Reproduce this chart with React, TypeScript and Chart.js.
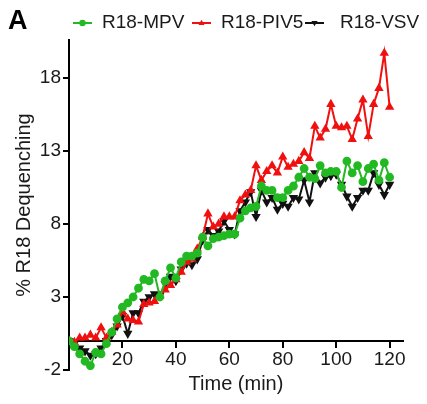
import React, { useEffect, useRef } from "react";
import { Chart, registerables } from "chart.js";

Chart.register(...registerables);

const times = [
  0, 2, 4, 6, 8, 10, 12, 14, 16, 18, 20, 22, 24, 26, 28, 30, 32, 34, 36, 38, 40,
  42, 44, 46, 48, 50, 52, 54, 56, 58, 60, 62, 64, 66, 68, 70, 72, 74, 76, 78, 80,
  82, 84, 86, 88, 90, 92, 94, 96, 98, 100, 102, 104, 106, 108, 110, 112, 114, 116, 118, 120,
];

const mpv = [
  0, -0.4, -0.9, -1.4, -1.7, -0.8, -0.9, -0.2, 0.6, 1.5, 2.3, 2.6, 3.0, 3.6, 4.2, 4.1, 4.6, 3.0, 4.1, 5.0, 4.3,
  5.4, 5.8, 5.8, 6.0, 7.1, 6.5, 7.0, 7.1, 7.2, 7.3, 7.3, 8.4, 8.9, 9.1, 9.2, 10.6, 10.3, 10.3, 9.8, 9.8,
  10.3, 10.6, 11.2, 11.8, 11.2, 11.1, 12.0, 11.5, 11.6, 11.6, 10.5, 12.3, 11.5, 12.0, 10.9, 11.8, 12.1, 11.0, 12.2, 11.2,
];

const piv5 = [
  0, -0.1, 0.2, 0.2, 0.4, 0.2, 0.9, 0.2, 0.6, 1.1, 2.0, 1.5, 1.4, 1.3, 2.5, 2.6, 2.7, 3.1, 3.5, 3.8, 4.2,
  4.7, 5.4, 5.6, 6.3, 7.1, 8.7, 7.8, 8.0, 8.5, 8.5, 8.5, 9.6, 10.0, 10.3, 12.0, 11.0, 11.6, 12.0, 11.5, 12.6,
  11.9, 12.1, 12.3, 12.9, 12.5, 14.7, 13.9, 14.5, 16.2, 14.7, 14.6, 14.7, 13.8, 15.2, 16.5, 14.0, 16.2, 17.3, 19.7, 16.0,
];

const vsv = [
  0, -0.2, -0.5, -0.7, -1.0, -0.9, -0.5, 0.0, 0.4, 1.0, 1.7, 0.5, 1.9, 1.9, 2.7, 3.0, 3.2, 3.1, 3.9, 4.4, 4.1,
  4.9, 5.3, 5.2, 5.6, 6.9, 7.6, 7.2, 7.5, 8.2, 7.6, 7.3, 8.9, 9.5, 10.2, 8.5, 10.3, 9.5, 9.8, 9.0, 9.4,
  9.2, 9.8, 9.7, 11.0, 9.5, 11.5, 10.8, 11.2, 11.3, 11.4, 10.7, 9.9, 9.2, 9.8, 10.3, 10.3, 11.5, 10.7, 10.0, 10.7,
];

const seriesLabels = ["R18-MPV", "R18-PIV5", "R18-VSV"];
const yTickValues = [-2, 3, 8, 13, 18];
const xTickValues = [20, 40, 60, 80, 100, 120];
const panelLetter = "A";
const yTitle = "% R18 Dequenching";
const xTitle = "Time (min)";

const FONT = "'Liberation Sans', Arial, Helvetica, sans-serif";
const GREEN = "#22b922";
const RED = "#f01010";
const BLACK = "#111111";

function drawMarker(ctx: CanvasRenderingContext2D, style: string, rot: number, x: number, y: number, r: number, color: string) {
  ctx.fillStyle = color;
  ctx.beginPath();
  if (style === "circle") {
    ctx.arc(x, y, r, 0, Math.PI * 2);
  } else {
    const s = rot === 180 ? -1 : 1;
    ctx.moveTo(x, y - s * r);
    ctx.lineTo(x + r * 0.95, y + s * r * 0.6);
    ctx.lineTo(x - r * 0.95, y + s * r * 0.6);
    ctx.closePath();
  }
  ctx.fill();
}

const legendPlugin = {
  id: "customLegend",
  afterDraw(chart: any) {
    const ctx: CanvasRenderingContext2D = chart.ctx;
    const markerStarts = [73, 192, 305];
    const textStarts = [102, 221, 340];
    const y = 23;
    ctx.save();
    ctx.fillStyle = "#000";
    ctx.font = `bold 27px ${FONT}`;
    ctx.textAlign = "left";
    ctx.textBaseline = "alphabetic";
    ctx.fillText(panelLetter, 8, 29);
    chart.data.datasets.forEach((ds: any, i: number) => {
      const x0 = markerStarts[i];
      ctx.strokeStyle = ds.borderColor;
      ctx.lineWidth = 2;
      ctx.beginPath();
      ctx.moveTo(x0, y);
      ctx.lineTo(x0 + 19, y);
      ctx.stroke();
      drawMarker(ctx, ds.pointStyle, ds.pointRotation || 0, x0 + 9.5, y, 3.2, ds.borderColor);
      ctx.fillStyle = "#1a1a1a";
      ctx.font = `19px ${FONT}`;
      ctx.textBaseline = "middle";
      ctx.fillText(ds.label, textStarts[i], y);
    });
    ctx.restore();
  },
};

export default function App() {
  const ref = useRef<HTMLCanvasElement | null>(null);

  useEffect(() => {
    if (!ref.current) return;
    const mk = (vals: number[]) => times.map((t, i) => ({ x: t, y: vals[i] }));
    const chart = new Chart(ref.current, {
      type: "line",
      data: {
        datasets: [
          {
            label: seriesLabels[0],
            data: mk(mpv),
            borderColor: GREEN,
            backgroundColor: GREEN,
            pointStyle: "circle",
            pointRadius: 3.4,
            borderWidth: 2,
          },
          {
            label: seriesLabels[1],
            data: mk(piv5),
            borderColor: RED,
            backgroundColor: RED,
            pointStyle: "triangle",
            pointRadius: 3.4,
            borderWidth: 2,
          },
          {
            label: seriesLabels[2],
            data: mk(vsv),
            borderColor: BLACK,
            backgroundColor: BLACK,
            pointStyle: "triangle",
            pointRotation: 180,
            pointRadius: 3.4,
            borderWidth: 2,
          },
        ] as any,
      },
      options: {
        animation: false,
        responsive: true,
        maintainAspectRatio: false,
        layout: { padding: { left: 0, right: 24, top: 40, bottom: 34 } },
        plugins: { legend: { display: false }, tooltip: { enabled: false } },
        elements: { line: { tension: 0 }, point: { borderWidth: 0 } },
        scales: {
          x: {
            type: "linear",
            position: { y: 0 } as any,
            min: 0,
            max: 125,
            afterBuildTicks: (s: any) => {
              s.ticks = xTickValues.map((v) => ({ value: v }));
            },
            afterFit: (s: any) => {
              s.height = 34;
            },
            grid: { display: true, drawOnChartArea: false, drawTicks: true, tickLength: 6, color: "#000", lineWidth: 2 },
            border: { display: true, color: "#000", width: 2 },
            ticks: { color: "#1a1a1a", font: { family: FONT, size: 19 }, padding: 2, maxRotation: 0, autoSkip: false },
            title: {
              display: true,
              text: xTitle,
              color: "#1a1a1a",
              font: { family: FONT, size: 20 },
              padding: { top: 0, bottom: -22 },
            },
          },
          y: {
            type: "linear",
            position: "left",
            min: -2,
            max: 20.6,
            afterBuildTicks: (s: any) => {
              s.ticks = yTickValues.map((v) => ({ value: v }));
            },
            afterFit: (s: any) => {
              s.width = 69;
            },
            grid: { display: true, drawOnChartArea: false, drawTicks: true, tickLength: 6, color: "#000", lineWidth: 2 },
            border: { display: true, color: "#000", width: 2 },
            ticks: { color: "#1a1a1a", font: { family: FONT, size: 19 }, padding: 2, autoSkip: false },
            title: {
              display: true,
              text: yTitle,
              color: "#1a1a1a",
              font: { family: FONT, size: 20 },
              padding: { top: 12, bottom: 0 },
            },
          },
        },
      } as any,
      plugins: [legendPlugin],
    });
    return () => chart.destroy();
  }, []);

  return (
    <div style={{ position: "fixed", left: 0, top: 0, width: 427, height: 404, background: "#fff" }}>
      <canvas ref={ref} />
    </div>
  );
}
